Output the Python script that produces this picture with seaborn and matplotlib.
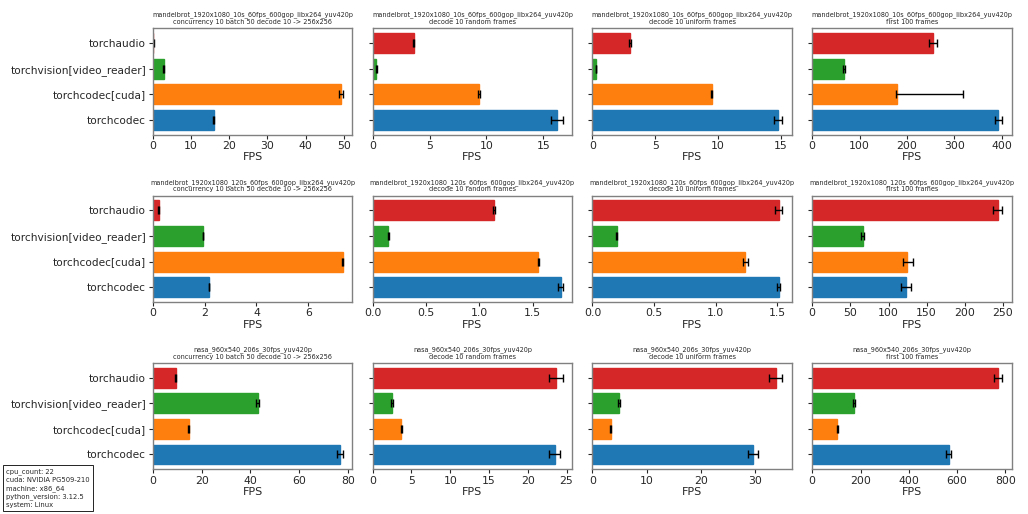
import numpy as np
import pandas as pd
import seaborn as sns
from matplotlib import pyplot as plt

decoders = ["torchaudio", "torchvision[video_reader]", "torchcodec[cuda]", "torchcodec"]
colors = ["#d62728", "#2ca02c", "#ff7f0e", "#1f77b4"]

videos = ["mandelbrot_1920x1080_10s_60fps_600gop_libx264_yuv420p",
          "mandelbrot_1920x1080_120s_60fps_600gop_libx264_yuv420p",
          "nasa_960x540_206s_30fps_yuv420p"]
tasks = ["concurrency 10 batch 50 decode 10 -> 256x256",
         "decode 10 random frames",
         "decode 10 uniform frames",
         "first 100 frames"]

# fps values, order = decoders, one list per (video, task)
fps_10s_conc = [0.1, 2.8, 49.3, 15.9]
fps_10s_rand = [3.6, 0.32, 9.35, 16.2]
fps_10s_unif = [3.0, 0.28, 9.5, 14.8]
fps_10s_first = [255, 67, 178, 393]
fps_120s_conc = [0.22, 1.94, 7.33, 2.16]
fps_120s_rand = [1.14, 0.146, 1.55, 1.76]
fps_120s_unif = [1.51, 0.195, 1.24, 1.51]
fps_120s_first = [243, 66, 124, 123]
fps_nasa_conc = [9.3, 43.0, 14.7, 76.8]
fps_nasa_rand = [23.6, 2.5, 3.7, 23.5]
fps_nasa_unif = [33.9, 4.9, 3.4, 29.7]
fps_nasa_first = [770, 172, 104, 566]

# error bars (lower, upper)
err_10s_conc = [[0.05, 0.2, 0.5, 0.2], [0.05, 0.2, 0.5, 0.2]]
err_10s_rand = [[0.05, 0.03, 0.05, 0.5], [0.05, 0.03, 0.05, 0.5]]
err_10s_unif = [[0.05, 0.02, 0.05, 0.35], [0.05, 0.02, 0.05, 0.35]]
err_10s_first = [[8, 2, 2, 8], [8, 2, 140, 8]]
err_120s_conc = [[0.01, 0.01, 0.01, 0.01], [0.01, 0.01, 0.01, 0.01]]
err_120s_rand = [[0.01, 0.003, 0.005, 0.02], [0.01, 0.003, 0.005, 0.02]]
err_120s_unif = [[0.03, 0.003, 0.02, 0.01], [0.03, 0.003, 0.02, 0.01]]
err_120s_first = [[6, 1.5, 5, 6], [6, 1.5, 8, 6]]
err_nasa_conc = [[0.2, 0.6, 0.2, 1.2], [0.2, 0.6, 0.2, 1.2]]
err_nasa_rand = [[0.9, 0.1, 0.1, 0.7], [0.9, 0.1, 0.1, 0.7]]
err_nasa_unif = [[1.2, 0.2, 0.1, 0.9], [1.2, 0.2, 0.1, 0.9]]
err_nasa_first = [[17, 4, 2, 11], [17, 4, 2, 11]]

all_fps = [[fps_10s_conc, fps_10s_rand, fps_10s_unif, fps_10s_first],
           [fps_120s_conc, fps_120s_rand, fps_120s_unif, fps_120s_first],
           [fps_nasa_conc, fps_nasa_rand, fps_nasa_unif, fps_nasa_first]]
all_err = [[err_10s_conc, err_10s_rand, err_10s_unif, err_10s_first],
           [err_120s_conc, err_120s_rand, err_120s_unif, err_120s_first],
           [err_nasa_conc, err_nasa_rand, err_nasa_unif, err_nasa_first]]

info = "cpu_count: 22\ncuda: NVIDIA PG509-210\nmachine: x86_64\npython_version: 3.12.5\nsystem: Linux"

sns.set_style("white")
plt.rcParams['font.family'] = ['DejaVu Sans']

fig, axes = plt.subplots(3, 4, figsize=(10.28, 5.14), dpi=100)
fig.subplots_adjust(left=0.1488, right=0.9841, top=0.945, bottom=0.087,
                    wspace=0.102, hspace=0.575)

for i in range(3):
    for j in range(4):
        ax = axes[i][j]
        df = pd.DataFrame({"decoder": decoders, "fps": all_fps[i][j]})
        sns.barplot(data=df, x="fps", y="decoder", hue="decoder", order=decoders,
                    hue_order=decoders, palette=colors, saturation=1, legend=False,
                    errorbar=None, ax=ax, width=0.78, linewidth=1)
        for p, c in zip(ax.patches, colors):
            p.set_edgecolor(c)
        ax.errorbar(all_fps[i][j], np.arange(4), xerr=np.array(all_err[i][j]),
                    fmt='none', ecolor='black', elinewidth=1, capsize=3, capthick=1)
        ax.set_title(videos[i] + "\n" + tasks[j], fontsize=4.7, pad=3, linespacing=1.15)
        ax.set_xlabel("FPS", fontsize=8, labelpad=1)
        ax.set_ylabel("")
        ax.tick_params(axis='x', labelsize=7.8, length=3, width=0.8, bottom=True, pad=1.5)
        ax.tick_params(axis='y', labelsize=7.6, length=3, width=0.8, left=True, pad=2)
        if j > 0:
            ax.set_yticklabels([])
        for s in ax.spines.values():
            s.set_edgecolor('#808080')
            s.set_linewidth(1)

fig.text(0.006, 0.011, info, fontsize=4.9, va='bottom', ha='left', linespacing=1.4,
         bbox=dict(boxstyle='square,pad=0.4', facecolor='white', edgecolor='black', linewidth=0.6))

plt.savefig("out.png", dpi=100)
